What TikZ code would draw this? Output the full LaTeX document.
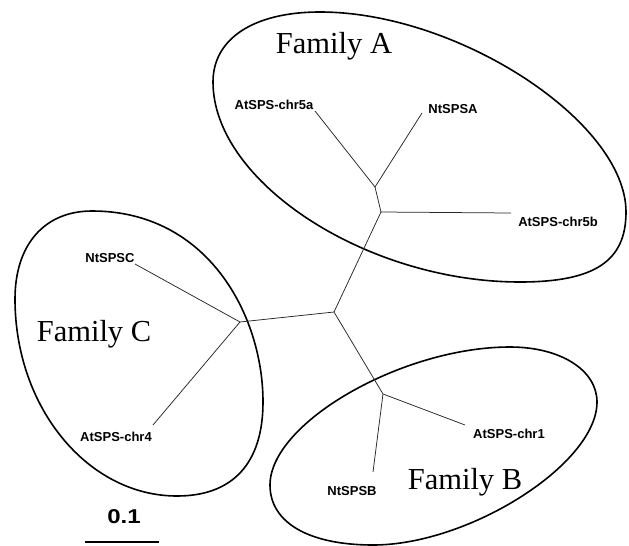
\documentclass[tikz,border=0pt]{standalone}
\usepackage{fontspec}
\usepackage{graphicx}
\setmainfont{Liberation Serif}
\newfontfamily\labfont{Liberation Sans}
\begin{document}
\begin{tikzpicture}[x=1pt,y=-1pt,
  fam/.style={font=\fontsize{30.5}{36}\selectfont, inner sep=0pt, anchor=base},
  leaf/.style={font=\labfont\bfseries\fontsize{13}{15}\selectfont, inner sep=0pt, anchor=base},
  branch/.style={line width=0.75pt, black!85},
  group/.style={line width=1.6pt, black}]
\useasboundingbox (0,0) rectangle (629,546);
% group outlines (Family A, C, B)
\draw[group] (213,82) .. controls (213,38.6) and (253.7,12) .. (320,12)
  .. controls (458.2,12) and (626,122) .. (626,212)
  .. controls (626,261) and (594.9,282) .. (520,282)
  .. controls (366.5,282) and (213,182) .. cycle;
\draw[group] (92,211) .. controls (208.3,211) and (263,316) .. (263,402)
  .. controls (263,463.1) and (232.9,496) .. (177,496)
  .. controls (87.9,496) and (15,407.8) .. (15,299)
  .. controls (15,244.8) and (44.3,211) .. cycle;
\draw[group] (510,347) .. controls (560.5,347) and (597,370.1) .. (597,402)
  .. controls (597,463.9) and (469.3,545) .. (373,545)
  .. controls (309.1,545) and (270,522.8) .. (270,485)
  .. controls (270,422.9) and (402,347) .. cycle;
% tree
\coordinate (nA1) at (375,187);
\coordinate (nA2) at (381,212);
\coordinate (nM) at (334,312);
\coordinate (nC) at (240,322);
\coordinate (nB) at (383,394);
\coordinate (e5a) at (315,111);
\coordinate (eNA) at (422,113);
\coordinate (e5b) at (511,213);
\coordinate (eNC) at (135,264);
\coordinate (e4) at (153,425);
\coordinate (e1) at (465,425);
\coordinate (eNB) at (373,472);
\draw[branch] (e5a) -- (nA1) -- (eNA);
\draw[branch] (nA1) -- (nA2) -- (e5b);
\draw[branch] (nA2) -- (nM) -- (nC);
\draw[branch] (eNC) -- (nC) -- (e4);
\draw[branch] (nM) -- (nB) -- (e1);
\draw[branch] (nB) -- (eNB);
% labels
\node[leaf] (l5a) at (274,109) {AtSPS-chr5a};
\node[leaf] (lNA) at (453,113) {NtSPSA};
\node[leaf] (l5b) at (558,226) {AtSPS-chr5b};
\node[leaf] (lNC) at (110,262) {NtSPSC};
\node[leaf] (l4) at (116,441) {AtSPS-chr4};
\node[leaf] (l1) at (509,438) {AtSPS-chr1};
\node[leaf] (lNB) at (352,495) {NtSPSB};
\node[fam] (fA) at (334,53) {Family A};
\node[fam] (fB) at (465,489) {Family B};
\node[fam] (fC) at (94,341) {Family C};
% scale bar
\node[font=\labfont\bfseries\fontsize{20}{24}\selectfont, inner sep=0pt, anchor=base] (sc) at (124,523) {\scalebox{1.2}[1]{0.1}};
\coordinate (s1) at (85,542);
\coordinate (s2) at (159,542);
\draw[line width=1.4pt] (s1) -- (s2);
\end{tikzpicture}
\end{document}
